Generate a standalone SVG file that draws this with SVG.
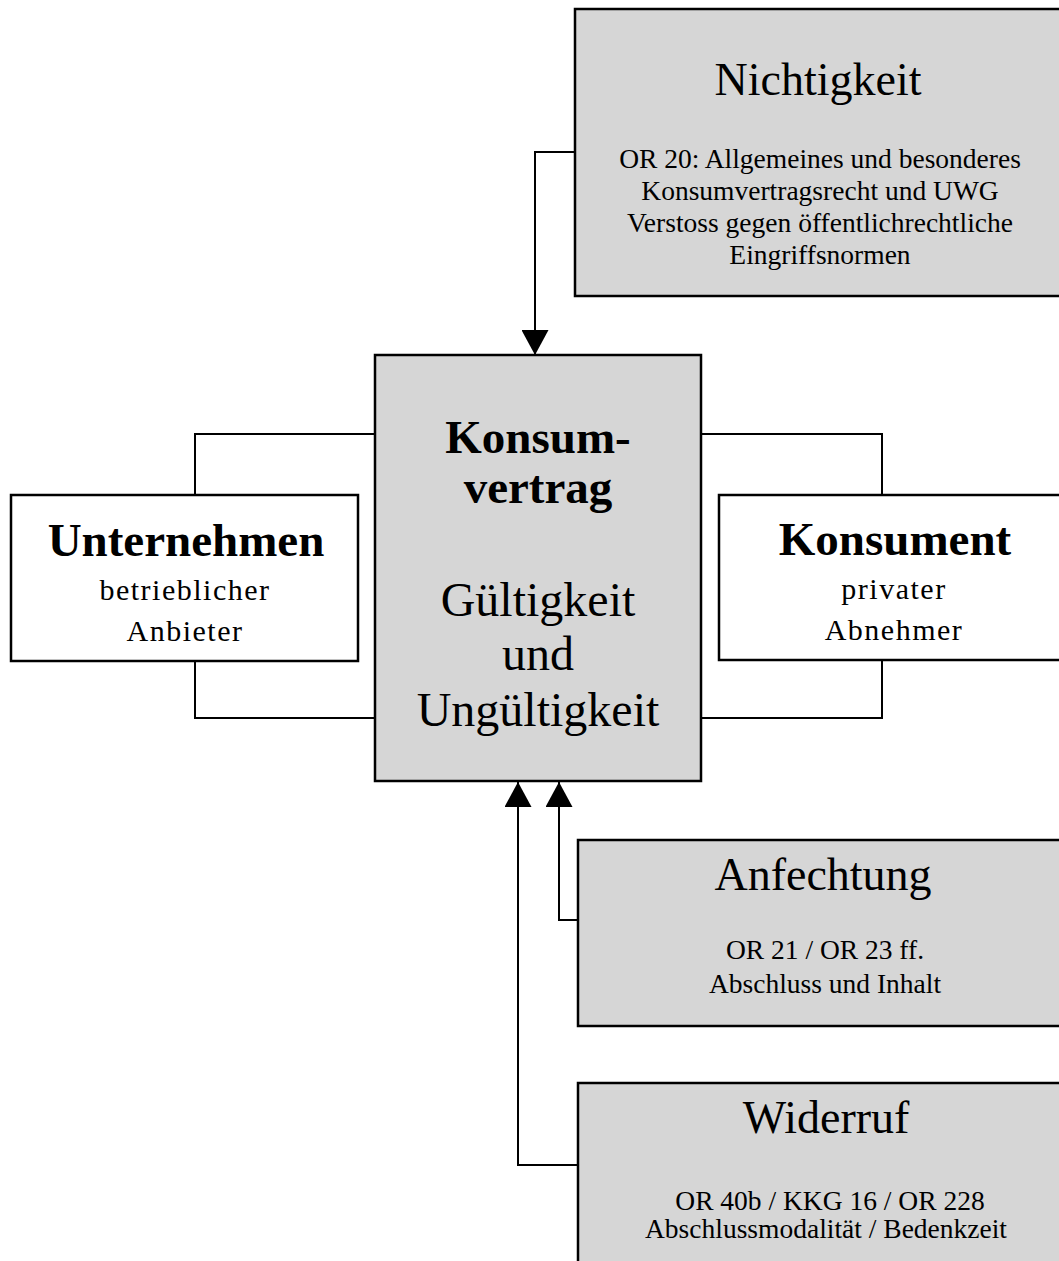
<svg xmlns="http://www.w3.org/2000/svg" width="1059" height="1261" viewBox="0 0 1059 1261">
  <style>
    .box { stroke: #000; stroke-width: 2.5; }
    .shaded { fill: #d6d6d6; }
    .plain { fill: #fff; }
    .link { fill: none; stroke: #000; stroke-width: 2; }
    text { font-family: "Liberation Serif", "Times New Roman", serif; fill: #000; text-anchor: middle; }
    .title { font-size: 46px; }
    .bold { font-size: 47px; font-weight: bold; }
    .big { font-size: 48px; }
    .body { font-size: 27.5px; }
    .sub { font-size: 30px; letter-spacing: 1.5px; }
  </style>
  <defs>
    <marker id="arrow" viewBox="0 0 25 27" refX="25" refY="13.5" markerWidth="25" markerHeight="27" markerUnits="userSpaceOnUse" orient="auto">
      <path d="M0,0 L25,13.5 L0,27 Z" fill="#000"/>
    </marker>
  </defs>
  <rect width="1059" height="1261" fill="#fff"/>

  <!-- connectors -->
  <g id="connectors">
    <path class="link" d="M575,152 H535 V355" marker-end="url(#arrow)"/>
    <path class="link" d="M578,920 H559 V782" marker-end="url(#arrow)"/>
    <path class="link" d="M578,1165 H518 V782" marker-end="url(#arrow)"/>
    <path class="link" d="M375,434 H195 V495"/>
    <path class="link" d="M195,661 V718 H375"/>
    <path class="link" d="M701,434 H882 V495"/>
    <path class="link" d="M882,660 V718 H701"/>
  </g>

  <!-- Nichtigkeit -->
  <g id="nichtigkeit">
    <rect class="box shaded" x="575" y="9" width="492" height="287"/>
    <text class="title" x="818" y="95">Nichtigkeit</text>
    <text class="body" x="820" y="168">OR 20: Allgemeines  und besonderes</text>
    <text class="body" x="820" y="200">Konsumvertragsrecht und UWG</text>
    <text class="body" x="820" y="232">Verstoss gegen öffentlichrechtliche</text>
    <text class="body" x="820" y="264">Eingriffsnormen</text>
  </g>

  <!-- Konsumvertrag -->
  <g id="konsumvertrag">
    <rect class="box shaded" x="375" y="355" width="326" height="426"/>
    <text class="bold" x="538" y="453">Konsum-</text>
    <text class="bold" x="538" y="503">vertrag</text>
    <text class="big" x="538" y="616">Gültigkeit</text>
    <text class="big" x="538" y="670">und</text>
    <text class="big" x="538" y="726">Ungültigkeit</text>
  </g>

  <!-- Unternehmen -->
  <g id="unternehmen">
    <rect class="box plain" x="11" y="495" width="347" height="166"/>
    <text class="bold" x="186" y="556">Unternehmen</text>
    <text class="sub" x="185" y="600">betrieblicher</text>
    <text class="sub" x="185" y="641">Anbieter</text>
  </g>

  <!-- Konsument -->
  <g id="konsument">
    <rect class="box plain" x="719" y="495" width="348" height="165"/>
    <text class="bold" x="895" y="555">Konsument</text>
    <text class="sub" x="894" y="599">privater</text>
    <text class="sub" x="894" y="640">Abnehmer</text>
  </g>

  <!-- Anfechtung -->
  <g id="anfechtung">
    <rect class="box shaded" x="578" y="840" width="489" height="186"/>
    <text class="title" x="823" y="890">Anfechtung</text>
    <text class="body" x="825" y="959">OR 21 / OR 23 ff.</text>
    <text class="body" x="825" y="993">Abschluss und Inhalt</text>
  </g>

  <!-- Widerruf -->
  <g id="widerruf">
    <rect class="box shaded" x="578" y="1083" width="489" height="190"/>
    <text class="title" x="826" y="1133">Widerruf</text>
    <text class="body" x="830" y="1210">OR 40b / KKG 16 / OR 228</text>
    <text class="body" x="826" y="1238">Abschlussmodalität / Bedenkzeit</text>
  </g>
</svg>
